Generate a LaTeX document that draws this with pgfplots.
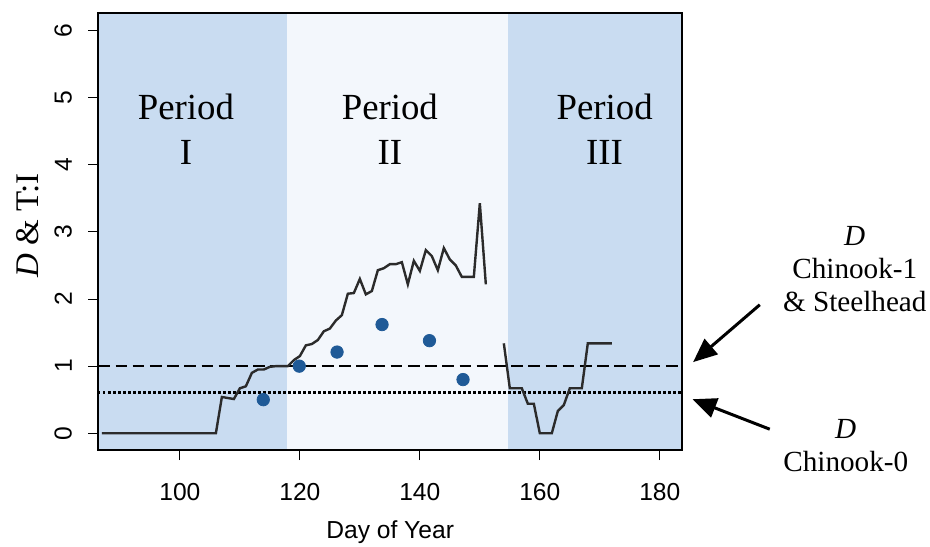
\documentclass[border=0pt]{standalone}
\usepackage{fontspec}
\setmainfont{Liberation Sans}
\newfontfamily\serif{Liberation Serif}
\usepackage{pgfplots}
\pgfplotsset{compat=1.18}
\usetikzlibrary{arrows.meta,calc}
\definecolor{bandblue}{HTML}{C9DCF1}
\definecolor{bandlight}{HTML}{F3F7FC}
\definecolor{ptblue}{HTML}{1F5A97}
\definecolor{linegray}{HTML}{2B2B2B}

\begin{document}
\begin{tikzpicture}
\begin{axis}[
  name=ax,
  scale only axis,
  width=291.85pt, height=218.35pt,
  xmin=86.4, xmax=183.7,
  ymin=-0.25, ymax=6.26,
  xtick={100,120,...,180},
  ytick={0,...,6},
  tick align=outside,
  major tick length=5pt,
  xtick pos=bottom, ytick pos=left,
  axis line style={line width=1.1pt},
  every tick/.style={black, line width=0.5pt},
  axis on top,
  clip=false,
  /pgf/number format/assume math mode=true,
  tick label style={font=\fontsize{12.3}{14}\selectfont},
  xticklabel style={anchor=north, inner sep=0pt},
  yticklabel style={rotate=90, anchor=south, inner sep=0pt},
  xticklabel shift=11.5pt,
  yticklabel shift=8pt,
  xlabel={Day of Year},
  xlabel style={font=\fontsize{12.3}{14}\selectfont, at={(axis description cs:0.5,0)}, anchor=base, yshift=-44pt},
  ylabel={\itshape D\upshape{} \& T:I},
  ylabel style={font=\serif\fontsize{16.5}{18}\selectfont, at={(axis description cs:-0.12,0.514)}, anchor=center},
]
% period backgrounds
\addplot[fill=bandblue, draw=none, forget plot] coordinates {(86.4,-0.25) (117.8,-0.25) (117.8,6.26) (86.4,6.26)} -- cycle;
\addplot[fill=bandlight, draw=none, forget plot] coordinates {(117.8,-0.25) (154.7,-0.25) (154.7,6.26) (117.8,6.26)} -- cycle;
\addplot[fill=bandblue, draw=none, forget plot] coordinates {(154.7,-0.25) (183.7,-0.25) (183.7,6.26) (154.7,6.26)} -- cycle;

% reference levels
\addplot[black, line width=0.7pt, dash pattern=on 5.8pt off 2.8pt] coordinates {(86.4,1) (183.7,1)};
\addplot[black, line width=1.5pt, dash pattern=on 1.1pt off 1.4pt] coordinates {(86.4,0.6) (183.7,0.6)};

% D line
\addplot[linegray, line width=1.2pt] coordinates {
(87,0) (106,0) (107,0.54) (109,0.51) (110,0.67) (111,0.70) (112,0.90) (113,0.95)
(114,0.95) (115,0.99) (116,1.0) (118,1.0) (119,1.09) (120,1.15) (121,1.31) (122,1.33)
(123,1.39) (124,1.52) (125,1.56) (126,1.68) (127,1.76) (128,2.08) (129,2.09) (130,2.30)
(131,2.07) (132,2.12) (133,2.43) (134,2.46) (135,2.52) (136,2.52) (137,2.55) (138,2.22)
(139,2.57) (140,2.42) (141,2.73) (142,2.64) (143,2.43) (144,2.76) (145,2.59) (146,2.50)
(147,2.33) (149,2.33) (150,3.43) (151,2.22)
};
\addplot[linegray, line width=1.2pt] coordinates {
(154,1.34) (155,0.67) (157,0.67) (158,0.44) (159,0.44) (160,0) (162,0) (163,0.33)
(164,0.42) (165,0.67) (167,0.67) (168,1.34) (172,1.34)
};

% T:I points
\addplot[only marks, mark=*, mark size=3.1pt, ptblue, mark options={draw=none, fill=ptblue}] coordinates {
(113.9,0.50) (119.9,1.00) (126.2,1.21) (133.7,1.62) (141.6,1.38) (147.2,0.80)
};

% annotations
\node[align=center, font=\serif\fontsize{18.4}{22.5}\selectfont] at (axis cs:101,4.53) {Period\\I};
\node[align=center, font=\serif\fontsize{18.4}{22.5}\selectfont] at (axis cs:135,4.53) {Period\\II};
\node[align=center, font=\serif\fontsize{18.4}{22.5}\selectfont] at (axis cs:170.8,4.53) {Period\\III};

\node[align=center, font=\serif\fontsize{14.6}{16.5}\selectfont] at (axis cs:212.5,2.45) {\itshape D\\Chinook-1\\\& Steelhead};
\node[align=center, font=\serif\fontsize{14.6}{16.5}\selectfont] at (axis cs:211,-0.19) {\itshape D\\Chinook-0};

\draw[-{Triangle[length=12pt,width=10pt]}, line width=1.5pt] (axis cs:196.67,1.915) -- (axis cs:185.55,1.06);
\draw[-{Triangle[length=12pt,width=10pt]}, line width=1.5pt] (axis cs:198.33,0.06) -- (axis cs:185.45,0.507);
\end{axis}
\pgfresetboundingbox
\path[use as bounding box] ($(ax.south west)+(-49.15pt,-48pt)$) rectangle ($(ax.south west)+(415.85pt,225pt)$);
\end{tikzpicture}
\end{document}
